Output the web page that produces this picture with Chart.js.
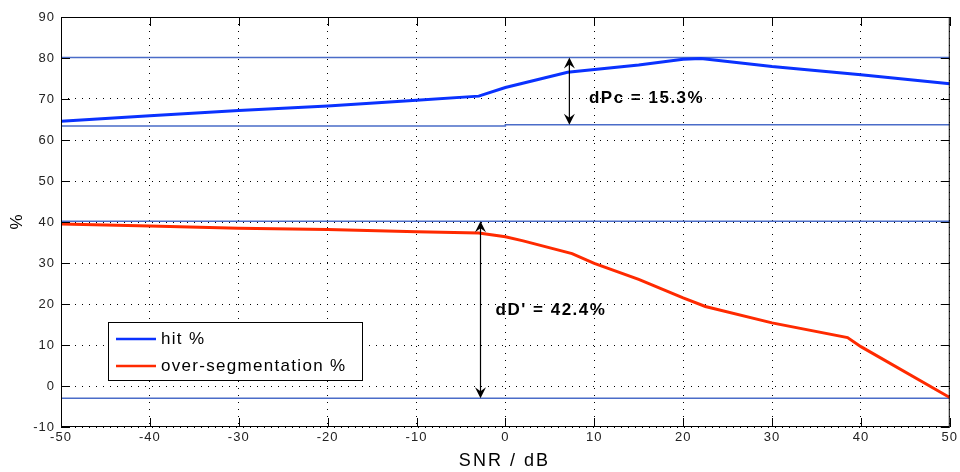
<!DOCTYPE html>
<html>
<head>
<meta charset="utf-8">
<script src="https://cdn.jsdelivr.net/npm/chart.js@4/dist/chart.umd.min.js"></script>
<style>
  html, body { margin: 0; padding: 0; background: #fff; }
  #wrap { width: 960px; height: 472px; }
</style>
</head>
<body>
<div id="wrap"><canvas id="c" width="960" height="472"></canvas></div>
<script>
// values
var hitSnr = [-50, -40, -30, -20, -10, -3, 0, 7, 15, 20, 22, 30, 40, 50];
var hitPct = [64.6, 65.9, 67.2, 68.3, 69.7, 70.7, 72.8, 76.5, 78.3, 79.7, 79.9, 77.9, 75.9, 73.7];

var overSnr = [-50, -40, -30, -20, -10, -3, 0, 2, 7.5, 10, 15, 20, 22.5, 30, 38.5, 40, 50];
var overPct = [39.5, 39.0, 38.5, 38.2, 37.6, 37.3, 36.4, 35.4, 32.3, 29.9, 26.0, 21.5, 19.4, 15.4, 11.8, 9.6, -2.8];

// reference levels (thin lines)
var hitTopSnr = [-50, 50];
var hitTopPct = [80.1, 80.1];
var hitLowSnr = [-50, 0, 0, 50];
var hitLowPct = [63.4, 63.4, 63.7, 63.7];
var overTopSnr = [-50, 50];
var overTopPct = [40.2, 40.2];
var overLowSnr = [-50, 50];
var overLowPct = [-3.0, -3.0];

// arrows: [snr, from, to] and their labels [snr, %, text]
var dpcArrow = [7.2, 63.7, 80.1];
var ddArrow = [-2.8, -3.0, 40.2];
var dpcLabel = [9.4, 70.2, 'dPc = 15.3%'];
var ddLabel = [-1.1, 18.5, "dD' = 42.4%"];

var xTicks = [-50, -40, -30, -20, -10, 0, 10, 20, 30, 40, 50];
var yTicks = [-10, 0, 10, 20, 30, 40, 50, 60, 70, 80, 90];

var seriesNames = ['hit %', 'over-segmentation %'];
var blue = '#0a32ff';
var red = '#ff2a00';
var refBlue = '#4a6cc8';
var fam = '"Liberation Sans", Arial, sans-serif';

function pts(xs, ys) {
  return xs.map(function(x, i) { return { x: x, y: ys[i] }; });
}

function refLine(xs, ys) {
  return {
    data: pts(xs, ys),
    borderColor: refBlue,
    borderWidth: 1.5,
    pointRadius: 0,
    fill: false
  };
}

function arrowHead(ctx, x, y, dir) {
  // dir = -1 pointing up, 1 pointing down
  ctx.beginPath();
  ctx.moveTo(x, y);
  ctx.lineTo(x - 5.5, y - dir * 11);
  ctx.lineTo(x, y - dir * 7);
  ctx.lineTo(x + 5.5, y - dir * 11);
  ctx.closePath();
  ctx.fill();
}

var decorPlugin = {
  id: 'decor',
  beforeDraw: function(chart) {
    chart.ctx.letterSpacing = '1px';
  },
  afterDatasetsDraw: function(chart) {
    var ctx = chart.ctx;
    var xs = chart.scales.x, ys = chart.scales.y;
    var a = chart.chartArea;
    ctx.save();

    // box and inward ticks
    ctx.strokeStyle = '#000';
    ctx.lineWidth = 1;
    ctx.strokeRect(a.left + 0.5, a.top + 0.5, a.right - a.left - 1, a.bottom - a.top - 1);
    ctx.beginPath();
    xTicks.forEach(function(v) {
      var px = Math.round(xs.getPixelForValue(v)) + 0.5;
      ctx.moveTo(px, a.bottom); ctx.lineTo(px, a.bottom - 9);
      ctx.moveTo(px, a.top); ctx.lineTo(px, a.top + 9);
    });
    yTicks.forEach(function(v) {
      var py = Math.round(ys.getPixelForValue(v)) + 0.5;
      ctx.moveTo(a.left, py); ctx.lineTo(a.left + 9, py);
      ctx.moveTo(a.right, py); ctx.lineTo(a.right - 9, py);
    });
    ctx.stroke();

    // arrows
    ctx.fillStyle = '#000';
    ctx.lineWidth = 1.2;
    [dpcArrow, ddArrow].forEach(function(ar) {
      var px = xs.getPixelForValue(ar[0]);
      var pLow = ys.getPixelForValue(ar[1]);
      var pHigh = ys.getPixelForValue(ar[2]);
      ctx.beginPath();
      ctx.moveTo(px, pHigh + 4);
      ctx.lineTo(px, pLow - 4);
      ctx.stroke();
      arrowHead(ctx, px, pHigh, -1);
      arrowHead(ctx, px, pLow, 1);
    });

    // labels
    ctx.font = 'bold 17px ' + fam;
    ctx.letterSpacing = '1.5px';
    ctx.textBaseline = 'middle';
    ctx.textAlign = 'left';
    [dpcLabel, ddLabel].forEach(function(l) {
      ctx.fillText(l[2], xs.getPixelForValue(l[0]), ys.getPixelForValue(l[1]));
    });

    // legend
    var lx = 108, ly = 322, lw = 254, lh = 58;
    ctx.fillStyle = '#fff';
    ctx.fillRect(lx, ly, lw, lh);
    ctx.strokeStyle = '#000';
    ctx.lineWidth = 1;
    ctx.strokeRect(lx + 0.5, ly + 0.5, lw, lh);
    var colors = [blue, red];
    ctx.font = '17px ' + fam;
    ctx.letterSpacing = '1.3px';
    seriesNames.forEach(function(name, i) {
      var cy = ly + 17 + i * 27;
      ctx.strokeStyle = colors[i];
      ctx.lineWidth = 2.5;
      ctx.beginPath();
      ctx.moveTo(116, cy); ctx.lineTo(156, cy);
      ctx.stroke();
      ctx.fillStyle = '#000';
      ctx.fillText(name, 161, cy);
    });

    // axis titles
    ctx.font = '18px ' + fam;
    ctx.letterSpacing = '2px';
    ctx.textAlign = 'center';
    ctx.fillText('SNR / dB', (a.left + a.right) / 2 - 1, 461);
    ctx.translate(17, 222);
    ctx.rotate(-Math.PI / 2);
    ctx.font = '17px ' + fam;
    ctx.letterSpacing = '0px';
    ctx.fillText('%', 0, 0);
    ctx.restore();
  }
};

var ctx = document.getElementById('c').getContext('2d');
var chart = new Chart(ctx, {
  type: 'line',
  data: {
    datasets: [
      { label: seriesNames[0], data: pts(hitSnr, hitPct), borderColor: blue, borderWidth: 3, pointRadius: 0, fill: false },
      { label: seriesNames[1], data: pts(overSnr, overPct), borderColor: red, borderWidth: 3, pointRadius: 0, fill: false },
      refLine(hitTopSnr, hitTopPct),
      refLine(hitLowSnr, hitLowPct),
      refLine(overTopSnr, overTopPct),
      refLine(overLowSnr, overLowPct)
    ]
  },
  options: {
    responsive: false,
    animation: false,
    layout: { padding: { left: 0, top: 17, right: 4, bottom: 0 } },
    plugins: { legend: { display: false }, tooltip: { enabled: false } },
    elements: { line: { tension: 0 } },
    scales: {
      x: {
        type: 'linear',
        min: -50,
        max: 50,
        afterFit: function(s) { s.height = 45; },
        afterBuildTicks: function(s) { s.ticks = xTicks.map(function(v) { return { value: v }; }); },
        ticks: { padding: 3, color: '#222', font: { family: fam, size: 13 }, maxRotation: 0 },
        grid: { color: '#000', lineWidth: 1, drawTicks: false },
        border: { display: false, dash: [1, 6] }
      },
      y: {
        min: -10,
        max: 90,
        afterFit: function(s) { s.width = 61; },
        afterBuildTicks: function(s) { s.ticks = yTicks.map(function(v) { return { value: v }; }); },
        ticks: { padding: 6, color: '#222', font: { family: fam, size: 13 } },
        grid: { color: '#000', lineWidth: 1, drawTicks: false },
        border: { display: false, dash: [1, 6] }
      }
    }
  },
  plugins: [decorPlugin]
});
</script>
</body>
</html>
